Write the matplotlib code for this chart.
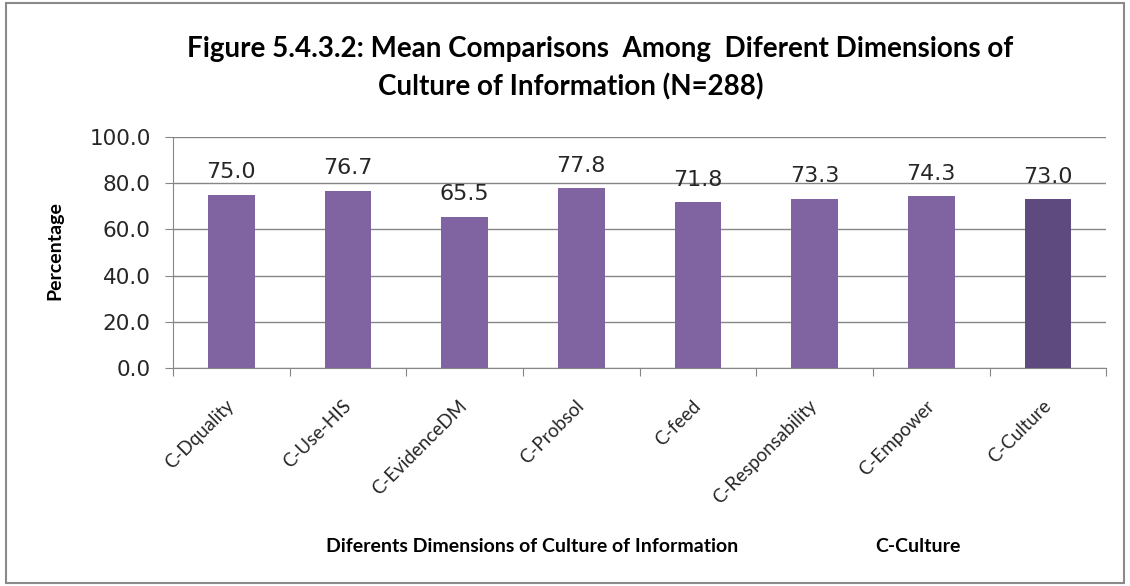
import matplotlib
matplotlib.use("Agg")
import matplotlib.pyplot as plt
import matplotlib.transforms as mtransforms
from matplotlib.patches import Rectangle

categories = ["C-Dquality", "C-Use-HIS", "C-EvidenceDM", "C-Probsol", "C-feed",
              "C-Responsability", "C-Empower", "C-Culture"]
values = [75.0, 76.7, 65.5, 77.8, 71.8, 73.3, 74.3, 73.0]
bar_colors = ["#8064A2"] * 7 + ["#5E4A7E"]
yticks = [0, 20, 40, 60, 80, 100]

fig = plt.figure(figsize=(11.3, 5.86), dpi=100)
fig.patches.append(Rectangle((0.005, 0.005), 0.99, 0.99, transform=fig.transFigure,
                             fill=False, edgecolor="#8a8a8a", linewidth=1.5))
ax = fig.add_axes([0.153, 0.372, 0.826, 0.394])

x = list(range(len(categories)))
bars = ax.bar(x, values, width=0.4, color=bar_colors, zorder=3)
ax.set_xlim(-0.5, len(categories) - 0.5)
ax.set_ylim(0, 100)
ax.set_yticks(yticks)
ax.set_yticklabels([f"{v:.1f}" for v in yticks], fontsize=15.5, color="#262626")
ax.yaxis.grid(True, color="#868686", linewidth=1, zorder=0)
ax.set_axisbelow(True)
for s in ["top", "right"]:
    ax.spines[s].set_visible(False)
for s in ["left", "bottom"]:
    ax.spines[s].set_color("#868686")
ax.tick_params(axis="y", length=6, color="#868686", pad=10)

ax.set_xticks([i - 0.5 for i in range(len(categories) + 1)], minor=False)
ax.set_xticklabels([""] * (len(categories) + 1))
ax.tick_params(axis="x", length=6, color="#868686")
ax.set_xticks(x, minor=True)
ax.set_xticklabels(categories, minor=True, rotation=45, ha="right", va="top",
                   fontsize=13.5, family="Lato", color="#262626")
ax.tick_params(axis="x", which="minor", length=0, pad=21)
shift = mtransforms.ScaledTranslation(6 / 100, 0, fig.dpi_scale_trans)
for lbl in ax.get_xticklabels(minor=True):
    lbl.set_transform(lbl.get_transform() + shift)

for b, v in zip(bars, values):
    ax.annotate(f"{v:.1f}", (b.get_x() + b.get_width() / 2, v), xytext=(0, 9),
                textcoords="offset points", ha="center", va="bottom", fontsize=16,
                color="#262626")

fig.text(0.531, 0.917, "Figure 5.4.3.2: Mean Comparisons  Among  Diferent Dimensions of",
         ha="center", va="center", fontsize=20, fontweight="bold", family="Lato")
fig.text(0.505, 0.851, "Culture of Information (N=288)",
         ha="center", va="center", fontsize=20, fontweight="bold", family="Lato")
fig.text(0.049, 0.573, "Percentage", rotation=90, ha="center", va="center",
         fontsize=14, fontweight="bold", family="Lato")
fig.text(0.471, 0.068, "Diferents Dimensions of Culture of Information", ha="center",
         va="center", fontsize=14, fontweight="bold", family="Lato")
fig.text(0.812, 0.068, "C-Culture", ha="center", va="center", fontsize=14,
         fontweight="bold", family="Lato")

fig.savefig("out.png", dpi=100)
